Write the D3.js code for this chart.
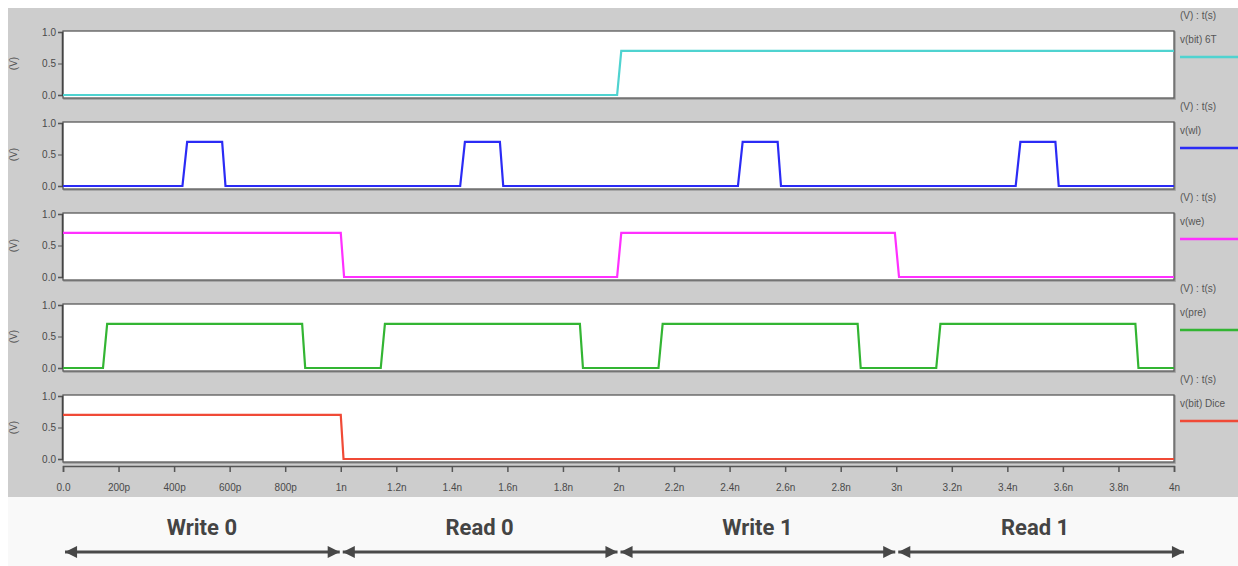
<!DOCTYPE html>
<html>
<head>
    <title>6T vs Dice waveforms</title>
    <style>
        body {
            margin: 0;
            background: #ffffff;
            font-family: Arial, "Liberation Sans", sans-serif;
        }
        svg { display: block; }
        .tick text { fill: #4a4a4a; font-size: 10px; }
        .phase { font-family: Roboto, sans-serif; font-weight: bold; font-size: 22px; fill: #444; }
    </style>
    <script src="https://cdnjs.cloudflare.com/ajax/libs/d3/7.8.5/d3.min.js"></script>
</head>
<body>
<script>
    // time in ns, voltage in V
    var phases = ["Write 0", "Read 0", "Write 1", "Read 1"];
    var xTickValues = [0, 0.2, 0.4, 0.6, 0.8, 1, 1.2, 1.4, 1.6, 1.8, 2, 2.2, 2.4, 2.6, 2.8, 3, 3.2, 3.4, 3.6, 3.8, 4];
    var xTickLabels = ["0.0", "200p", "400p", "600p", "800p", "1n", "1.2n", "1.4n", "1.6n", "1.8n", "2n",
        "2.2n", "2.4n", "2.6n", "2.8n", "3n", "3.2n", "3.4n", "3.6n", "3.8n", "4n"];
    var yTickValues = [0, 0.5, 1];
    var yTickLabels = ["0.0", "0.5", "1.0"];

    var bit6T_t = [0, 1.995, 2.01, 4];
    var bit6T_v = [0, 0, 0.7, 0.7];

    var wl_t = [0, 0.43, 0.447, 0.573, 0.585, 1.43, 1.447, 1.573, 1.585, 2.43, 2.447, 2.573, 2.585, 3.43, 3.447, 3.573, 3.585, 4];
    var wl_v = [0, 0, 0.7, 0.7, 0, 0, 0.7, 0.7, 0, 0, 0.7, 0.7, 0, 0, 0.7, 0.7, 0, 0];

    var we_t = [0, 1.0, 1.012, 1.995, 2.01, 2.995, 3.01, 4];
    var we_v = [0.7, 0.7, 0, 0, 0.7, 0.7, 0, 0];

    var pre_t = [0, 0.144, 0.159, 0.861, 0.872, 1.144, 1.159, 1.861, 1.872, 2.144, 2.159, 2.861, 2.872, 3.144, 3.159, 3.861, 3.872, 4];
    var pre_v = [0, 0, 0.7, 0.7, 0, 0, 0.7, 0.7, 0, 0, 0.7, 0.7, 0, 0, 0.7, 0.7, 0, 0];

    var dice_t = [0, 1.0, 1.01, 4];
    var dice_v = [0.7, 0.7, 0, 0];

    var signals = [
        {name: "v(bit) 6T", t: bit6T_t, v: bit6T_v, color: "#4fd3d0"},
        {name: "v(wl)", t: wl_t, v: wl_v, color: "#2b2bf5"},
        {name: "v(we)", t: we_t, v: we_v, color: "#ff30ff"},
        {name: "v(pre)", t: pre_t, v: pre_v, color: "#33b533"},
        {name: "v(bit) Dice", t: dice_t, v: dice_v, color: "#f04a36"}
    ];

    var W = 1238, H = 566;
    var left = 63, right = 1174;
    var panelTop = 31, panelH = 67, panelStep = 91;

    var svg = d3.select("body").append("svg").attr("width", W).attr("height", H);

    svg.append("rect").attr("x", 8).attr("y", 8).attr("width", W - 8).attr("height", 489).attr("fill", "#cdcdcd");
    svg.append("rect").attr("x", 8).attr("y", 497).attr("width", W - 8).attr("height", H - 497).attr("fill", "#f9f9f9");

    var x = d3.scaleLinear().domain([0, 4]).range([left, right]);

    signals.forEach(function (s, i) {
        var top = panelTop + i * panelStep;
        var y = d3.scaleLinear().domain([0, 1]).range([top + panelH - 3, top + 1]);
        var g = svg.append("g");

        g.append("rect")
            .attr("x", left + 1).attr("y", top + 1)
            .attr("width", right - left).attr("height", panelH)
            .attr("fill", "none").attr("stroke", "#9a9a9a").attr("stroke-width", 1.5);
        g.append("rect")
            .attr("x", left).attr("y", top)
            .attr("width", right - left).attr("height", panelH)
            .attr("fill", "#ffffff").attr("stroke", "#5a5a5a").attr("stroke-width", 1.3);

        var yAxis = d3.axisLeft(y).tickValues(yTickValues).tickSize(4)
            .tickFormat(function (d, k) { return yTickLabels[k]; });
        var ya = g.append("g").attr("transform", "translate(" + (left - 1) + ",0)").call(yAxis);
        ya.select(".domain").attr("stroke", "#444").attr("stroke-width", 1.5);
        ya.selectAll(".tick line").attr("stroke", "#555");
        ya.selectAll(".tick text").attr("x", -6);

        g.append("text")
            .attr("transform", "translate(17," + (top + panelH / 2 - 1) + ") rotate(-90)")
            .attr("text-anchor", "middle").attr("font-size", 10).attr("fill", "#555")
            .text("(V)");

        var pts = s.t.map(function (t, k) { return [t, s.v[k]]; });
        var line = d3.line().x(function (d) { return x(d[0]); }).y(function (d) { return y(d[1]); });
        g.append("path").datum(pts).attr("d", line)
            .attr("fill", "none").attr("stroke", s.color).attr("stroke-width", 2.2);

        // legend
        g.append("text").attr("x", 1180).attr("y", top - 12)
            .attr("font-size", 10).attr("fill", "#555").text("(V) : t(s)");
        g.append("text").attr("x", 1180).attr("y", top + 12)
            .attr("font-size", 10).attr("fill", "#555").text(s.name);
        g.append("line").attr("x1", 1180).attr("x2", W).attr("y1", top + 26).attr("y2", top + 26)
            .attr("stroke", s.color).attr("stroke-width", 2.5);
    });

    var axisY = panelTop + 4 * panelStep + panelH + 4;
    var xAxis = d3.axisBottom(x).tickValues(xTickValues).tickSize(6).tickPadding(12)
        .tickFormat(function (d, k) { return xTickLabels[k]; });
    var xa = svg.append("g").attr("transform", "translate(0," + axisY + ")").call(xAxis);
    xa.select(".domain").attr("stroke", "#555").attr("stroke-width", 1.5);
    xa.selectAll(".tick line").attr("stroke", "#555").attr("stroke-width", 1.5);

    // phase labels and arrows
    var defs = svg.append("defs");
    defs.append("marker").attr("id", "head").attr("viewBox", "0 0 10 10")
        .attr("refX", 10).attr("refY", 5).attr("markerWidth", 5).attr("markerHeight", 4.3)
        .attr("markerUnits", "strokeWidth").attr("orient", "auto-start-reverse")
        .append("path").attr("d", "M0,0 L10,5 L0,10 z").attr("fill", "#474747");

    phases.forEach(function (p, k) {
        svg.append("text").attr("class", "phase")
            .attr("x", x(k + 0.5)).attr("y", 535).attr("text-anchor", "middle").text(p);
        var x2 = k === phases.length - 1 ? x(k + 1) + 10 : x(k + 1) - 1;
        svg.append("line")
            .attr("x1", x(k) + 2).attr("x2", x2).attr("y1", 552).attr("y2", 552)
            .attr("stroke", "#4a4a4a").attr("stroke-width", 2.8)
            .attr("marker-start", "url(#head)").attr("marker-end", "url(#head)");
    });
</script>
</body>
</html>
